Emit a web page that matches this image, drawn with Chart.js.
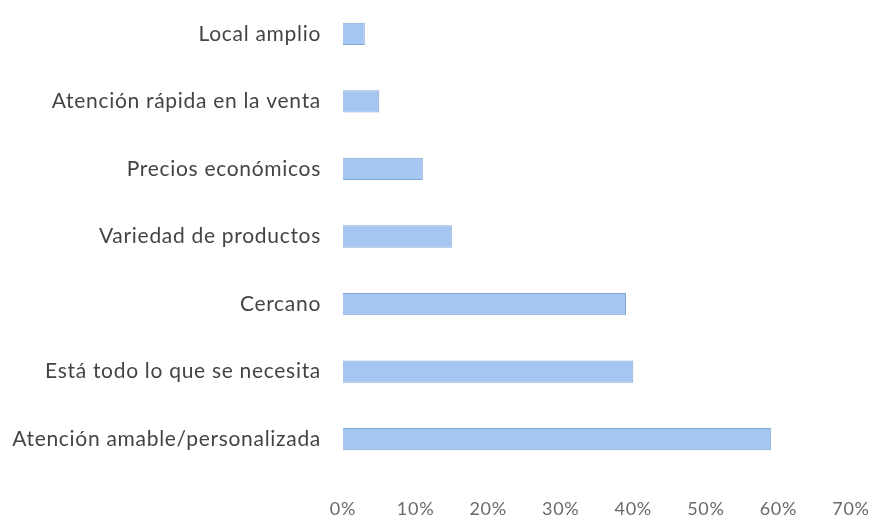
<!DOCTYPE html>
<html>
<head>
<meta charset="utf-8">
<script src="https://cdn.jsdelivr.net/npm/chart.js@4"></script>
<style>
  html, body { margin: 0; padding: 0; background: #fff; }
  #wrap { width: 877px; height: 523px; position: relative; }
</style>
</head>
<body>
<div id="wrap"><canvas id="c" width="877" height="523"></canvas></div>
<script>
// Reasons for choosing the store, share of respondents (%)
const categories = [
  "Local amplio",
  "Atención rápida en la venta",
  "Precios económicos",
  "Variedad de productos",
  "Cercano",
  "Está todo lo que se necesita",
  "Atención amable/personalizada"
];
const shares = [3, 5, 11, 15, 39, 40, 59];
const axisMax = 70;
const axisStep = 10;

// slightly open letter spacing for all canvas text
const spacing = {
  id: 'spacing',
  beforeDraw(chart) { chart.ctx.letterSpacing = '0.7px'; }
};

new Chart(document.getElementById('c'), {
  type: 'bar',
  data: {
    labels: categories,
    datasets: [{
      data: shares,
      backgroundColor: '#a4c6f1',
      borderColor: '#84a8d6',
      borderWidth: 1,
      categoryPercentage: 0.33,
      barPercentage: 1.0
    }]
  },
  plugins: [spacing],
  options: {
    indexAxis: 'y',
    responsive: false,
    animation: false,
    layout: { padding: { top: -6, right: 26, bottom: 0, left: 0 } },
    plugins: { legend: { display: false }, tooltip: { enabled: false } },
    scales: {
      x: {
        min: 0,
        max: axisMax,
        grid: { display: false, drawTicks: false },
        border: { display: false },
        ticks: {
          stepSize: axisStep,
          padding: 25,
          color: '#6a6a6a',
          font: { family: 'Lato', size: 18 },
          callback: v => v + '%'
        },
        afterFit: s => {
          s.height = 50;
          s.paddingLeft = 0;
          s.paddingRight = 0;
        }
      },
      y: {
        grid: { display: false, drawTicks: false },
        border: { display: false },
        ticks: {
          padding: 22,
          color: '#444',
          font: { family: 'Lato', size: 21 }
        },
        afterFit: s => {
          s.width = 343;
          s.paddingTop = 0;
          s.paddingBottom = 0;
        }
      }
    }
  }
});
</script>
</body>
</html>
